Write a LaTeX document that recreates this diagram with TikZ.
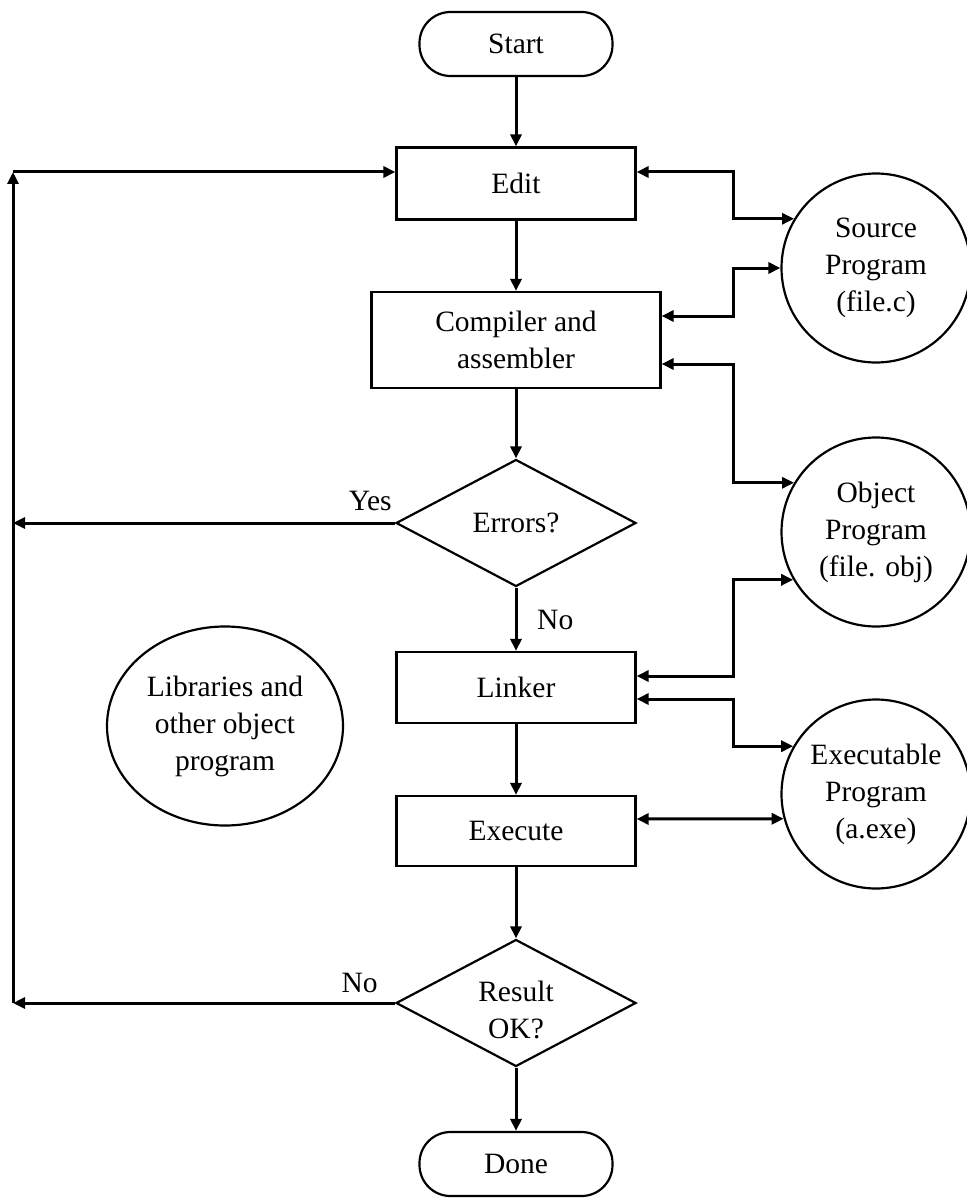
\documentclass[tikz,border=0pt]{standalone}
\usepackage{fontspec}
\setmainfont{Liberation Serif}
\usetikzlibrary{shapes.geometric,arrows.meta}
\begin{document}
\begin{tikzpicture}[x=1pt,y=-1pt,
  every node/.style={font=\fontsize{29.5}{37}\selectfont, align=center, inner sep=0pt},
  shp/.style={draw, line width=2.2pt},
  boxn/.style={shp, rectangle, minimum width=239pt, minimum height=72pt},
  term/.style={shp, rectangle, rounded corners=31pt, minimum width=193pt, minimum height=64pt},
  dec/.style={shp, diamond, minimum width=240pt, minimum height=127pt},
  circ/.style={shp, ellipse, minimum width=189pt, minimum height=189pt},
  tip/.tip={Triangle[length=12pt,width=11pt]},
  arr/.style={line width=3pt, -tip},
  dbl/.style={line width=3pt, tip-tip},
  lbl/.style={font=\fontsize{29.5}{37}\selectfont}
]
\useasboundingbox (0,0) rectangle (966,1201);

% main column
\node[term] (start) at (516,44) {Start};
\node[boxn] (edit) at (516,183.5) {Edit};
\node[boxn, minimum width=289pt, minimum height=96pt] (comp) at (516,340) {Compiler and\\assembler};
\node[dec] (err) at (516,523) {Errors?};
\node[boxn, minimum height=71pt] (link) at (516,687.5) {Linker};
\node[boxn, minimum height=70pt] (exec) at (516,831) {Execute};
\node[dec] (res) at (516,1003) {};
\node (restext) at ([yshift=-7pt]res.center) {Result\\OK?};
\node[term] (done) at (516,1164) {Done};

% side circles
\node[circ] (src) at (876,268) {Source\\Program\\(file.c)};
\node[circ] (obj) at (876,532) {Object\\Program\\(file. obj)};
\node[circ] (exe) at (876,794) {Executable\\Program\\(a.exe)};
\node[shp, ellipse, minimum width=236pt, minimum height=199pt] (lib) at (225,726) {Libraries and\\other object\\program};

% main flow
\draw[arr] (start) -- (edit);
\draw[arr] (edit) -- (comp);
\draw[arr] (comp) -- (err);
\draw[arr] (err) -- (link);
\node[lbl, anchor=west] (nolbl) at ([xshift=21pt,yshift=-32pt]err.south) {No};
\draw[arr] (link) -- (exec);
\draw[arr] (exec) -- (res);
\draw[arr] (res) -- (done);

% left loop
\coordinate (ltop) at (13,172);
\coordinate (lbot) at (13,1003);
\draw[arr] (err.west) -- (ltop |- err.west);
\node[lbl, anchor=south east] (yeslbl) at ([xshift=-3pt,yshift=12pt]err.west) {Yes};
\draw[arr] (res.west) -- (lbot);
\node[lbl, anchor=south east] (nolbl2) at ([xshift=-17pt,yshift=10pt]res.west) {No};
\draw[arr] (lbot) -- (ltop);
\draw[arr] (ltop) -- (ltop -| edit.west);

% right connectors
\draw[dbl] ([yshift=11.5pt]edit.east) -- ++(97,0) |- (src.149);
\draw[dbl] ([yshift=24pt]comp.east) -- ++(72,0) |- (src.west);
\draw[dbl] ([yshift=-24pt]comp.east) -- ++(72,0) |- (obj.149);
\draw[dbl] ([yshift=11.5pt]link.east) -- ++(97,0) |- (obj.210);
\draw[dbl] ([yshift=-11.5pt]link.east) -- ++(97,0) |- (exe.150);
\draw[dbl] ([yshift=12pt]exec.east) -- (exe.195);
\end{tikzpicture}
\end{document}
